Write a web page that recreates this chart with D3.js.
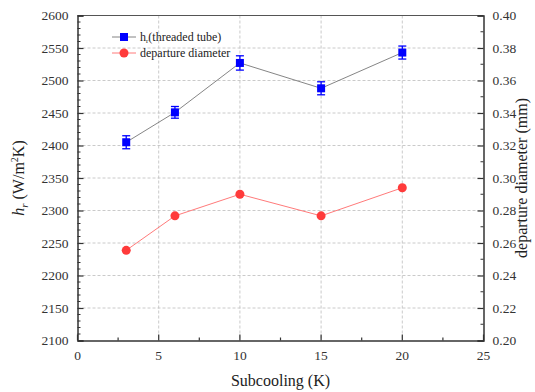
<!DOCTYPE html>
<html>
<head>
<meta charset="utf-8">
<script src="https://cdn.jsdelivr.net/npm/d3@7/dist/d3.min.js"></script>
<style>
  html, body { margin: 0; padding: 0; background: #fff; }
  svg text { font-family: "Liberation Serif", "Times New Roman", serif !important; }
</style>
</head>
<body>
<svg id="chart" width="535" height="392"></svg>
<script>
// Subcooling (K)
const subcooling = [3, 6, 10, 15, 20];
// Heat transfer coefficient h_r (W/m2K) and its error
const hr = [2405, 2451, 2527, 2488, 2543];
const hrErr = [10, 9, 11, 10, 10];
// Bubble departure diameter (mm)
const diameter = [0.2555, 0.2767, 0.2900, 0.2767, 0.2940];

const xTicks = [0, 5, 10, 15, 20, 25];
const yLeftTicks = [2100, 2150, 2200, 2250, 2300, 2350, 2400, 2450, 2500, 2550, 2600];
const yRightTicks = [0.20, 0.22, 0.24, 0.26, 0.28, 0.30, 0.32, 0.34, 0.36, 0.38, 0.40];

const svg = d3.select("#chart");
const m = { left: 77.5, right: 483.5, top: 15.5, bottom: 340.5 };

const x = d3.scaleLinear().domain([0, 25]).range([m.left, m.right]);
const yL = d3.scaleLinear().domain([2100, 2600]).range([m.bottom, m.top]);
const yR = d3.scaleLinear().domain([0.20, 0.40]).range([m.bottom, m.top]);

// grid
const grid = svg.append("g").attr("stroke", "#bdbdbd").attr("stroke-width", 0.8)
  .attr("stroke-dasharray", "3,2");
xTicks.slice(1, -1).forEach(t => {
  grid.append("line").attr("x1", x(t)).attr("x2", x(t)).attr("y1", m.top).attr("y2", m.bottom);
});
yLeftTicks.slice(1, -1).forEach(t => {
  grid.append("line").attr("x1", m.left).attr("x2", m.right).attr("y1", yL(t)).attr("y2", yL(t));
});

// top border
svg.append("line").attr("x1", m.left).attr("x2", m.right).attr("y1", m.top).attr("y2", m.top)
  .attr("stroke", "#555").attr("stroke-width", 1.2);

function styleAxis(g) {
  g.selectAll(".domain").attr("stroke", "#333").attr("stroke-width", 1.5);
  g.selectAll(".tick line").attr("stroke", "#333").attr("stroke-width", 1.2);
  g.selectAll("text").attr("font-size", 13.5).attr("fill", "#333");
}

// bottom axis (ticks inward)
const xMinor = d3.range(0, 25.01, 2.5);
const gx = svg.append("g").attr("transform", `translate(0,${m.bottom})`);
gx.call(d3.axisBottom(x).tickValues(xMinor).tickSize(0).tickFormat(""));
gx.selectAll(".tick line").remove();
xMinor.forEach(t => {
  gx.append("line").attr("x1", x(t)).attr("x2", x(t)).attr("y1", 0)
    .attr("y2", (t % 5 === 0) ? -6 : -3).attr("stroke", "#333").attr("stroke-width", 1.2);
});
xTicks.forEach(t => {
  gx.append("text").attr("x", x(t)).attr("y", 19).attr("text-anchor", "middle")
    .attr("font-size", 13.5).attr("fill", "#333").text(t);
});
gx.select(".domain").attr("stroke", "#333").attr("stroke-width", 1.5);

// left axis
const gyl = svg.append("g").attr("transform", `translate(${m.left},0)`);
gyl.call(d3.axisLeft(yL).tickValues(yLeftTicks).tickSize(-6).tickPadding(9).tickFormat(d3.format("d")));
const leftMinor = d3.range(2100, 2600, 10).filter(v => v % 50 !== 0);
leftMinor.forEach(v => {
  gyl.append("line").attr("x1", 0).attr("x2", 3).attr("y1", yL(v)).attr("y2", yL(v))
    .attr("stroke", "#333").attr("stroke-width", 1);
});
styleAxis(gyl);

// right axis
const gyr = svg.append("g").attr("transform", `translate(${m.right},0)`);
gyr.call(d3.axisRight(yR).tickValues(yRightTicks).tickSize(-6).tickPadding(9).tickFormat(d3.format(".2f")));
const rightMinor = d3.range(0.21, 0.40, 0.02);
rightMinor.forEach(v => {
  gyr.append("line").attr("x1", 0).attr("x2", -3).attr("y1", yR(v)).attr("y2", yR(v))
    .attr("stroke", "#333").attr("stroke-width", 1);
});
styleAxis(gyr);

// axis titles
svg.append("text").attr("x", x(12.5)).attr("y", 386).attr("text-anchor", "middle")
  .attr("font-size", 16).attr("fill", "#222").text("Subcooling (K)");

const lt = svg.append("text").attr("transform", `translate(24,${yL(2350)}) rotate(-90)`)
  .attr("text-anchor", "middle").attr("font-size", 16).attr("fill", "#222");
lt.append("tspan").attr("font-style", "italic").text("h");
lt.append("tspan").attr("font-style", "italic").attr("font-size", 11).attr("dy", 4).text("r");
lt.append("tspan").attr("dy", -4).text(" (W/m");
lt.append("tspan").attr("font-size", 10).attr("dy", -6).text("2");
lt.append("tspan").attr("dy", 6).text("K)");

svg.append("text").attr("transform", `translate(527,${yR(0.30)}) rotate(-90)`)
  .attr("text-anchor", "middle").attr("font-size", 16).attr("fill", "#222")
  .text("departure diameter (mm)");

// h_r series
const hrData = subcooling.map((s, i) => ({ s, v: hr[i], e: hrErr[i] }));
svg.append("path").datum(hrData)
  .attr("fill", "none").attr("stroke", "#777").attr("stroke-width", 0.9)
  .attr("d", d3.line().x(d => x(d.s)).y(d => yL(d.v)));

const eb = svg.append("g").attr("stroke", "#0000ff").attr("stroke-width", 1.3);
hrData.forEach(d => {
  const cx = x(d.s);
  eb.append("line").attr("x1", cx).attr("x2", cx).attr("y1", yL(d.v + d.e)).attr("y2", yL(d.v - d.e));
  eb.append("line").attr("x1", cx - 4).attr("x2", cx + 4).attr("y1", yL(d.v + d.e)).attr("y2", yL(d.v + d.e));
  eb.append("line").attr("x1", cx - 4).attr("x2", cx + 4).attr("y1", yL(d.v - d.e)).attr("y2", yL(d.v - d.e));
});
svg.append("g").selectAll("rect").data(hrData).join("rect")
  .attr("x", d => x(d.s) - 4).attr("y", d => yL(d.v) - 4)
  .attr("width", 8).attr("height", 8).attr("fill", "#0000ff");

// departure diameter series
const dData = subcooling.map((s, i) => ({ s, v: diameter[i] }));
svg.append("path").datum(dData)
  .attr("fill", "none").attr("stroke", "#ff6b6b").attr("stroke-width", 0.9)
  .attr("d", d3.line().x(d => x(d.s)).y(d => yR(d.v)));
svg.append("g").selectAll("circle").data(dData).join("circle")
  .attr("cx", d => x(d.s)).attr("cy", d => yR(d.v)).attr("r", 4.5).attr("fill", "#ff3b3b");

// legend
const lg = svg.append("g").attr("transform", "translate(112,0)");
lg.append("line").attr("x1", 0).attr("x2", 24).attr("y1", 37).attr("y2", 37).attr("stroke", "#777").attr("stroke-width", 0.9);
lg.append("rect").attr("x", 8).attr("y", 33).attr("width", 8).attr("height", 8).attr("fill", "#0000ff");
const l1 = lg.append("text").attr("x", 28).attr("y", 41).attr("font-size", 12).attr("fill", "#222");
l1.append("tspan").text("h");
l1.append("tspan").attr("font-size", 7).attr("dy", 2).text("r");
l1.append("tspan").attr("dy", -2).text("(threaded tube)");
lg.append("line").attr("x1", 0).attr("x2", 24).attr("y1", 53).attr("y2", 53).attr("stroke", "#ff6b6b").attr("stroke-width", 0.9);
lg.append("circle").attr("cx", 12).attr("cy", 53).attr("r", 4.5).attr("fill", "#ff3b3b");
lg.append("text").attr("x", 28).attr("y", 57).attr("font-size", 12).attr("fill", "#222").text("departure diameter");
</script>
</body>
</html>
